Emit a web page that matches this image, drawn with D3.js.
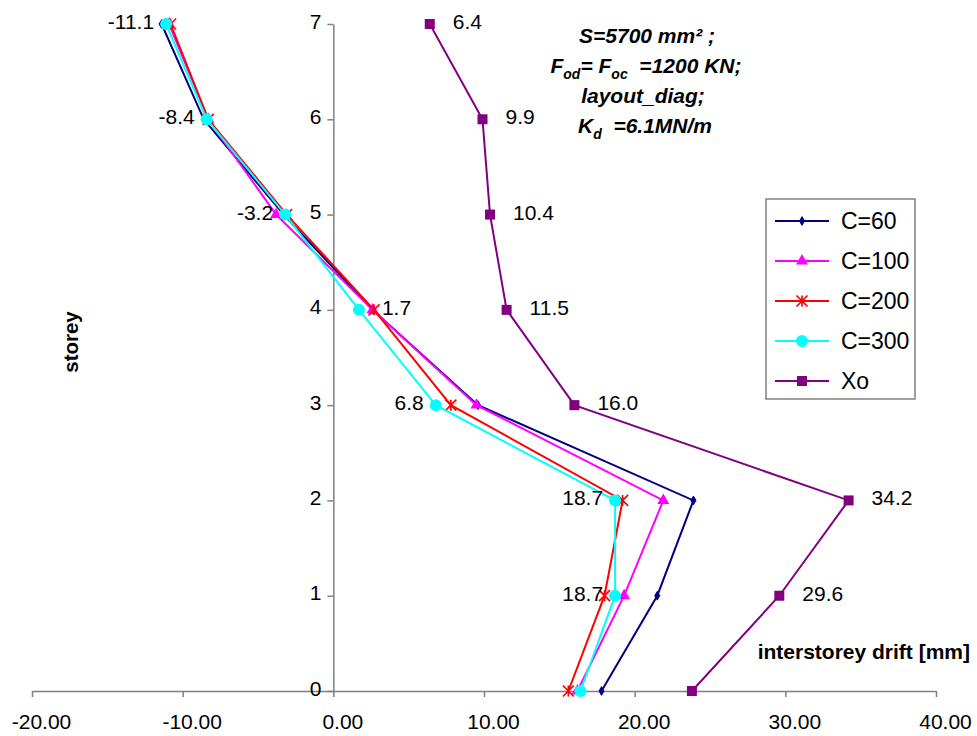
<!DOCTYPE html>
<html>
<head>
<meta charset="utf-8">
<script src="https://cdn.jsdelivr.net/npm/d3@7"></script>
<style>
  html, body { margin: 0; padding: 0; background: #fff; }
  svg { display: block; font-family: "Liberation Sans", Arial, sans-serif; }
</style>
</head>
<body>
<svg id="chart" width="977" height="736"></svg>
<script>
// ---- data ----
const storeys = [0, 1, 2, 3, 4, 5, 6, 7];
const c60  = [17.8, 21.5, 23.9, 9.6, 2.6, -3.3, -8.6, -11.4];
const c100 = [16.2, 19.3, 21.9, 9.5, 2.6, -3.8, -8.3, -10.9];
const c200 = [15.6, 18.0, 19.2, 7.8, 2.7, -3.1, -8.3, -10.8];
const c300 = [16.4, 18.7, 18.7, 6.8, 1.7, -3.2, -8.4, -11.1];
const xo   = [23.8, 29.6, 34.2, 16.0, 11.5, 10.4, 9.9, 6.4];
const seriesNames = ["C=60", "C=100", "C=200", "C=300", "Xo"];
const xTicks = [-20, -10, 0, 10, 20, 30, 40];
const yTicks = [0, 1, 2, 3, 4, 5, 6, 7];
// which points carry a data label, and on which side
const c300LabelSide = [null, "left", "left", "left", "right", "left", "left", "left"];
const xoLabelSide   = [null, "right", "right", "right", "right", "right", "right", "right"];

const svg = d3.select("#chart");
const x = d3.scaleLinear().domain([-20, 40]).range([32, 936]);
const y = d3.scaleLinear().domain([0, 7]).range([691, 24]);
const axisColor = "#808080";

// ---- axes ----
const xAxis = svg.append("g").attr("transform", `translate(0,${y(0)})`)
  .call(d3.axisBottom(x).tickValues(xTicks).tickSize(6).tickSizeOuter(0)
        .tickFormat(d => d.toFixed(2)));
xAxis.select(".domain").attr("stroke", axisColor).attr("stroke-width", 1.5);
xAxis.selectAll(".tick line").attr("stroke", axisColor).attr("stroke-width", 1.5);
xAxis.selectAll(".tick text").attr("font-size", 21).attr("fill", "#000")
  .attr("font-family", "Liberation Sans, Arial, sans-serif")
  .attr("y", 38).attr("dy", 0).attr("dx", 9);

const yAxis = svg.append("g").attr("transform", `translate(${x(0)},0)`)
  .call(d3.axisLeft(y).tickValues(yTicks).tickSize(6).tickSizeOuter(0)
        .tickFormat(d3.format("d")));
yAxis.select(".domain").attr("stroke", axisColor).attr("stroke-width", 1.5);
yAxis.selectAll(".tick line").attr("stroke", axisColor).attr("stroke-width", 1.5);
yAxis.selectAll(".tick text").attr("font-size", 21).attr("fill", "#000")
  .attr("font-family", "Liberation Sans, Arial, sans-serif")
  .attr("x", -12).attr("dy", 4);

// ---- marker painters ----
function marker(g, type, color) {
  if (type === "diamond") {
    g.append("path").attr("d", d3.symbol(d3.symbolDiamond, 22)()).attr("fill", color).attr("stroke", color);
  } else if (type === "triangle") {
    g.append("path").attr("d", d3.symbol(d3.symbolTriangle, 62)()).attr("fill", color);
  } else if (type === "star") {
    g.append("path").attr("d", "M-5.5,-5.5L5.5,5.5M-5.5,5.5L5.5,-5.5M0,-5.5L0,5.5")
      .attr("stroke", color).attr("stroke-width", 1.7).attr("fill", "none");
  } else if (type === "circle") {
    g.append("circle").attr("r", 6).attr("fill", color);
  } else if (type === "square") {
    g.append("rect").attr("x", -5).attr("y", -5).attr("width", 10).attr("height", 10).attr("fill", color);
  }
}

const series = [
  { name: seriesNames[0], values: c60,  color: "#000080", marker: "diamond" },
  { name: seriesNames[1], values: c100, color: "#FF00FF", marker: "triangle" },
  { name: seriesNames[2], values: c200, color: "#FF0000", marker: "star" },
  { name: seriesNames[3], values: c300, color: "#00FFFF", marker: "circle" },
  { name: seriesNames[4], values: xo,   color: "#800080", marker: "square" }
];

const line = d3.line().x(d => x(d[0])).y(d => y(d[1]));

series.forEach(s => {
  const pts = storeys.map((st, i) => [s.values[i], st]);
  const g = svg.append("g");
  g.append("path").datum(pts).attr("d", line)
    .attr("fill", "none").attr("stroke", s.color).attr("stroke-width", 2);
  pts.forEach(p => {
    const mg = g.append("g").attr("transform", `translate(${x(p[0])},${y(p[1])})`);
    marker(mg, s.marker, s.color);
  });
});

// ---- data labels ----
function addLabels(values, sides) {
  storeys.forEach((st, i) => {
    const side = sides[i];
    if (!side) return;
    svg.append("text")
      .attr("x", x(values[i]) + (side === "right" ? 23 : -12))
      .attr("y", y(st) + 5)
      .attr("text-anchor", side === "right" ? "start" : "end")
      .attr("font-size", 21).attr("fill", "#000")
      .text(values[i].toFixed(1));
  });
}
addLabels(c300, c300LabelSide);
addLabels(xo, xoLabelSide);

// ---- axis titles ----
svg.append("text").attr("x", 970).attr("y", 659).attr("text-anchor", "end")
  .attr("font-size", 21).attr("font-weight", "bold").text("interstorey drift [mm]");
svg.append("text").attr("transform", "translate(78,342) rotate(-90)")
  .attr("text-anchor", "middle").attr("font-size", 20.5).attr("font-weight", "bold").text("storey");

// ---- annotation ----
const ann = svg.append("g").attr("font-size", 21).attr("font-weight", "bold")
  .attr("font-style", "italic").attr("text-anchor", "middle");
ann.append("text").attr("x", 647).attr("y", 43).text("S=5700 mm\u00B2 ;");

const t2 = ann.append("text").attr("x", 646).attr("y", 73).attr("xml:space", "preserve");
t2.append("tspan").text("F");
t2.append("tspan").attr("font-size", 14).attr("dy", 6).text("od");
t2.append("tspan").attr("dy", -6).text("= F");
t2.append("tspan").attr("font-size", 14).attr("dy", 6).text("oc");
t2.append("tspan").attr("dy", -6).text("  =1200 KN;");

ann.append("text").attr("x", 643).attr("y", 103).text("layout_diag;");

const t4 = ann.append("text").attr("x", 645).attr("y", 133).attr("xml:space", "preserve");
t4.append("tspan").text("K");
t4.append("tspan").attr("font-size", 14).attr("dy", 6).text("d");
t4.append("tspan").attr("dy", -6).text("  =6.1MN/m");

// ---- legend ----
const lg = svg.append("g");
lg.append("rect").attr("x", 766).attr("y", 199).attr("width", 149).attr("height", 200)
  .attr("fill", "#fff").attr("stroke", "#808080").attr("stroke-width", 1.5);
series.forEach((s, i) => {
  const yy = 221 + i * 40;
  lg.append("line").attr("x1", 775).attr("x2", 829).attr("y1", yy).attr("y2", yy)
    .attr("stroke", s.color).attr("stroke-width", 2);
  const mg = lg.append("g").attr("transform", `translate(802,${yy})`);
  marker(mg, s.marker, s.color);
  lg.append("text").attr("x", 841).attr("y", yy + 8).attr("font-size", 23).attr("fill", "#000").text(s.name);
});
</script>
</body>
</html>
